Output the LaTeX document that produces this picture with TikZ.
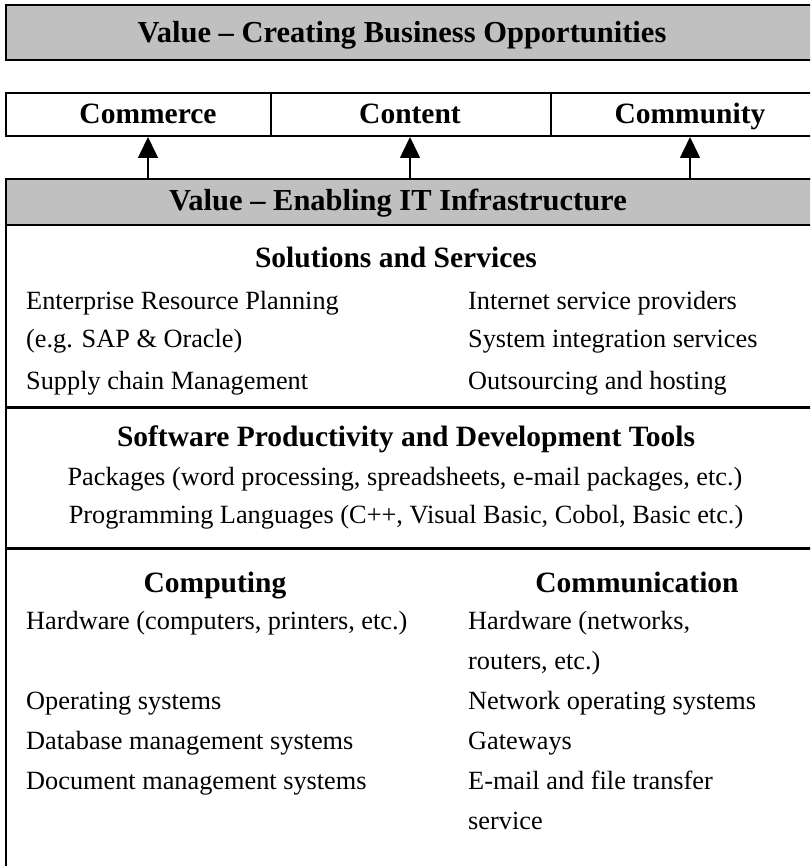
\documentclass[tikz,border=0pt]{standalone}
\usepackage{fontspec}
\setmainfont{Liberation Serif}
\usetikzlibrary{arrows.meta}
\definecolor{bargray}{HTML}{C0C0C0}
\begin{document}
\begin{tikzpicture}[x=1pt,y=-1pt,
  frame/.style={draw=black, line width=2pt, inner sep=0pt, anchor=north west},
  graybar/.style={frame, fill=bargray},
  sepline/.style={draw=black, line width=3pt},
  bartxt/.style={font=\fontsize{30.5}{35}\selectfont\bfseries, inner sep=0pt, anchor=base},
  headtxt/.style={font=\fontsize{29.5}{34}\selectfont\bfseries, inner sep=0pt, anchor=base},
  bodytxt/.style={font=\fontsize{26.3}{31}\selectfont, inner sep=0pt, anchor=base west},
  uparrow/.style={line width=1.5pt, -{Triangle[length=21pt,width=20pt]}}]
\useasboundingbox (0,0) rectangle (810,866);
\clip (0,0) rectangle (810,866);

% top bar
\node[graybar, minimum width=825pt, minimum height=55pt] (topbar) at (5,4) {};
\node[bartxt] (title) at (402,43) {Value -- Creating Business Opportunities};

% row of three cells
\node[frame, minimum width=265pt, minimum height=43pt] (cellA) at (5,92) {};
\node[frame, minimum width=280pt, minimum height=43pt] (cellB) at (270,92) {};
\node[frame, minimum width=280pt, minimum height=43pt] (cellC) at (550,92) {};
\node[headtxt] (commerce) at (148,124) {Commerce};
\node[headtxt] (content) at (410,124) {Content};
\node[headtxt] (community) at (690,124) {Community};

% lower frame and enabling bar
\node[frame, minimum width=825pt, minimum height=700pt] (lower) at (5,178) {};
\node[graybar, minimum width=825pt, minimum height=46pt] (enab) at (5,178) {};
\node[bartxt] (enabling) at (398,211) {Value -- Enabling IT Infrastructure};

% arrows
\draw[uparrow] (enab.north -| commerce) -- (cellA.south -| commerce);
\draw[uparrow] (enab.north -| content) -- (cellB.south -| content);
\draw[uparrow] (enab.north -| community) -- (cellC.south -| community);

% separators
\coordinate (sepA1) at (5,407);
\coordinate (sepA2) at (830,407);
\coordinate (sepB1) at (5,548);
\coordinate (sepB2) at (830,548);
\draw[sepline] (sepA1) -- (sepA2);
\draw[sepline] (sepB1) -- (sepB2);

% solutions and services
\node[headtxt] (solhead) at (396,268) {Solutions and Services};
\node[bodytxt] (erp) at (26,309) {Enterprise Resource Planning};
\node[bodytxt] (eg) at (26,347) {(e.g. SAP \& Oracle)};
\node[bodytxt] (scm) at (26,389) {Supply chain Management};
\node[bodytxt] (isp) at (468,309) {Internet service providers};
\node[bodytxt] (sis) at (468,347) {System integration services};
\node[bodytxt] (outs) at (468,389) {Outsourcing and hosting};

% software
\node[headtxt] (swhead) at (406,446) {Software Productivity and Development Tools};
\node[bodytxt, anchor=base] (pkg) at (405,485) {Packages (word processing, spreadsheets, e-mail packages, etc.)};
\node[bodytxt, anchor=base] (prog) at (406,523) {Programming Languages (C++, Visual Basic, Cobol, Basic etc.)};

% computing / communication
\node[headtxt] (comphead) at (215,592) {Computing};
\node[headtxt] (commhead) at (637,592) {Communication};
\node[bodytxt] (hwa) at (26,629) {Hardware (computers, printers, etc.)};
\node[bodytxt] (osa) at (26,709) {Operating systems};
\node[bodytxt] (dba) at (26,749) {Database management systems};
\node[bodytxt] (doca) at (26,789) {Document management systems};
\node[bodytxt] (hwb1) at (468,629) {Hardware (networks,};
\node[bodytxt] (hwb2) at (468,669) {routers, etc.)};
\node[bodytxt] (nosb) at (468,709) {Network operating systems};
\node[bodytxt] (gwb) at (468,749) {Gateways};
\node[bodytxt] (emb1) at (468,789) {E-mail and file transfer};
\node[bodytxt] (emb2) at (468,829) {service};
\end{tikzpicture}
\end{document}
